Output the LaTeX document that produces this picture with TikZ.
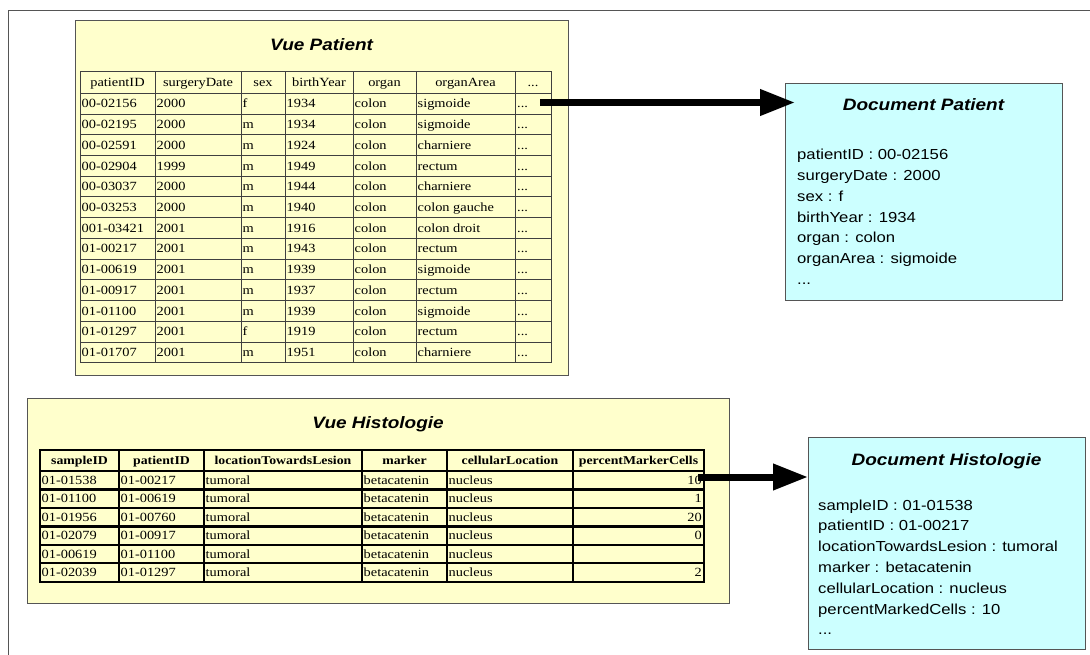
\documentclass[tikz,border=0pt]{standalone}
\usepackage{fontspec}
\setmainfont{Liberation Serif}[FakeStretch=1.15]
\setsansfont{Liberation Sans}[FakeStretch=1.15]
\usepackage{tikz}
\usetikzlibrary{arrows.meta,positioning}
\definecolor{vueyellow}{HTML}{FFFFCC}
\definecolor{doccyan}{HTML}{CCFFFF}
\definecolor{boxgray}{HTML}{555555}
\newcommand\suite{...}

\begin{document}
\begin{tikzpicture}[x=1pt,y=-1pt,
  vue/.style={draw=boxgray,line width=1.3pt,fill=vueyellow,anchor=north west,inner sep=0pt},
  doc/.style={draw=boxgray,line width=1.2pt,fill=doccyan,anchor=north west,inner sep=0pt},
  titre/.style={font=\sffamily\bfseries\itshape\fontsize{16.5}{20}\selectfont},
  pgrid/.style={draw=black!75,line width=0.8pt},
  hgrid/.style={draw=black,line width=2.4pt},
  cell/.style={font=\fontsize{12.5}{15}\selectfont,inner sep=0pt},
  hcell/.style={cell,font=\bfseries\fontsize{12}{15}\selectfont},
  ligne/.style={font=\sffamily\fontsize{14.5}{17}\selectfont,inner sep=0pt,anchor=base west},
  lien/.style={line width=7pt,-{Triangle[length=35pt,width=25pt]}}]
\useasboundingbox (0,0) rectangle (1090,655);
\draw[boxgray,line width=1.5pt] (8.5,660) -- (8.5,10.5) -- (1095,10.5);

% vue patient
\node[vue,minimum width=493,minimum height=355] (vuePatient) at (75,20) {};
\node[titre] (tVuePatient) at (321.5,45) {Vue Patient};
\draw[pgrid] (80,71.7) rectangle (551,362.7);
\foreach \x in {155,241,285,353,416,515}
  \draw[pgrid] (\x,71.7) -- (\x,362.7);
\foreach \r in {0,...,12}
  \draw[pgrid] (80,{93.3+20.72*\r}) -- (551,{93.3+20.72*\r});
\foreach \x/\t [count=\c] in %
{117.5/patientID,198/surgeryDate,263/sex,319/birthYear,384.5/organ,465.5/organArea,533/\suite} {
  \node[cell,anchor=base] (ph-\c) at (\x,86.8) {\t};
}
\foreach \id/\date/\sex/\year/\organ/\area [count=\r] in %
{00-02156/2000/f/1934/colon/sigmoide,
 00-02195/2000/m/1934/colon/sigmoide,
 00-02591/2000/m/1924/colon/charniere,
 00-02904/1999/m/1949/colon/rectum,
 00-03037/2000/m/1944/colon/charniere,
 00-03253/2000/m/1940/colon/colon gauche,
 001-03421/2001/m/1916/colon/colon droit,
 01-00217/2001/m/1943/colon/rectum,
 01-00619/2001/m/1939/colon/sigmoide,
 01-00917/2001/m/1937/colon/rectum,
 01-01100/2001/m/1939/colon/sigmoide,
 01-01297/2001/f/1919/colon/rectum,
 01-01707/2001/m/1951/colon/charniere} {
  \foreach \x/\v [count=\c] in {81.5/\id,156.5/\date,242.5/\sex,286.5/\year,354.5/\organ,417.5/\area,517/\suite} {
    \node[cell,anchor=base west] (p-\r-\c) at (\x,{93.3+20.72*(\r-0.5)+4.3}) {\v};
  }
}

% vue histologie
\node[vue,minimum width=702,minimum height=205] (vueHisto) at (27,398) {};
\node[titre] (tVueHisto) at (378,424) {Vue Histologie};
\draw[hgrid] (40,450) rectangle (704,581.7);
\foreach \x in {119,204,362,447,573}
  \draw[hgrid] (\x,450) -- (\x,581.7);
\foreach \r in {0,...,5}
  \draw[hgrid] (40,{471+18.45*\r}) -- (704,{471+18.45*\r});
\foreach \x/\t [count=\c] in %
{79.5/sampleID,161.5/patientID,283/locationTowardsLesion,404.5/marker,510/cellularLocation,638.5/percentMarkerCells} {
  \node[hcell,anchor=base] (hh-\c) at (\x,464.5) {\t};
}
\foreach \sid/\pid/\loc/\mark/\cloc/\pct [count=\r] in %
{01-01538/01-00217/tumoral/betacatenin/nucleus/10,
 01-01100/01-00619/tumoral/betacatenin/nucleus/1,
 01-01956/01-00760/tumoral/betacatenin/nucleus/20,
 01-02079/01-00917/tumoral/betacatenin/nucleus/0,
 01-00619/01-01100/tumoral/betacatenin/nucleus/{},
 01-02039/01-01297/tumoral/betacatenin/nucleus/2} {
  \foreach \x/\v [count=\c] in {41.5/\sid,120.5/\pid,205.5/\loc,363.5/\mark,448.5/\cloc} {
    \node[cell,anchor=base west] (h-\r-\c) at (\x,{471+18.45*(\r-0.5)+4.3}) {\v};
  }
  \node[cell,anchor=base east] (h-\r-6) at (702,{471+18.45*(\r-0.5)+4.3}) {\pct};
}

% documents
\node[doc,minimum width=277,minimum height=217] (docPatient) at (785,83) {};
\node[titre] (tDocPatient) at (923.5,105) {Document Patient};
\foreach \t [count=\k] in %
{patientID : 00-02156,surgeryDate : 2000,sex : f,birthYear : 1934,organ : colon,organArea : sigmoide,\suite} {
  \node[ligne] (dp-\k) at (797,{155+20.7*(\k-1)+5}) {\t};
}

\node[doc,minimum width=277,minimum height=212] (docHisto) at (808,437) {};
\node[titre] (tDocHisto) at (946.5,461) {Document Histologie};
\foreach \t [count=\k] in %
{sampleID : 01-01538,patientID : 01-00217,locationTowardsLesion : tumoral,marker : betacatenin,cellularLocation : nucleus,percentMarkedCells : 10,\suite} {
  \node[ligne] (dh-\k) at (818,{505+20.8*(\k-1)+5}) {\t};
}

% liens
\coordinate (srcPatient) at (540,102.5);
\coordinate (srcHisto) at (698,477);
\draw[lien] (srcPatient) -- ([xshift=10pt]srcPatient -| docPatient.west);
\draw[lien] (srcHisto) -- (srcHisto -| docHisto.west);
\end{tikzpicture}
\end{document}
